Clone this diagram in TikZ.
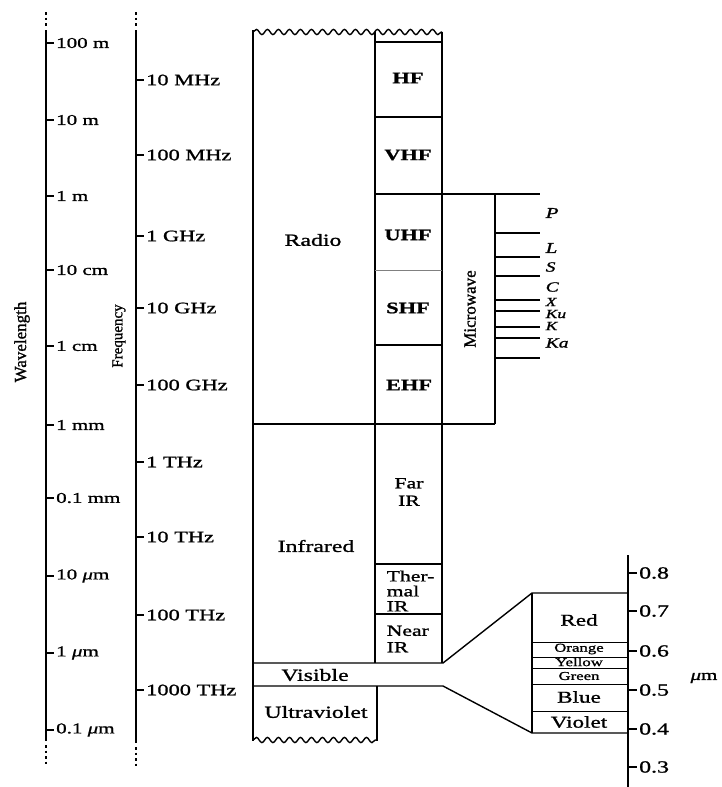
\documentclass[tikz,border=0pt]{standalone}
\usepackage{fontspec}
\setmainfont{Liberation Serif}[FakeStretch=1.4, FakeBold=1.2]
\newfontfamily\upfont{Liberation Serif}[FakeBold=1.2]
\usetikzlibrary{decorations.pathmorphing}

\begin{document}
\begin{tikzpicture}[x=1pt, y=-1pt, line width=1.4pt,
    wave/.style={decorate, decoration={snake, amplitude=2.6pt, segment length=11pt}},
    dots/.style={dash pattern=on 2.5pt off 3pt},
    wlabel/.style={right, inner sep=1.5pt, font=\fontsize{15}{15}\selectfont},
    flabel/.style={right, inner sep=1.5pt, font=\fontsize{16}{16}\selectfont},
    region/.style={font=\fontsize{17}{17}\selectfont},
    band/.style={font=\bfseries\fontsize{16}{16}\selectfont},
    irband/.style={align=left, inner sep=0pt, font=\fontsize{15.5}{16.5}\selectfont},
    colour/.style={font=\fontsize{16.5}{16.5}\selectfont},
    colsmall/.style={inner sep=0pt, font=\fontsize{12}{12}\selectfont},
    mwband/.style={right, inner sep=0pt, font=\itshape\fontsize{12.5}{12.5}\selectfont},
    sidelabel/.style={rotate=90, font=\upfont\fontsize{15}{15}\selectfont}]
    \useasboundingbox (0,0) rectangle (721,787);

    % wavelength and frequency axes
    \draw[line width=1.6pt] (46,30) -- (46,741);
    \draw[line width=1.6pt, dots] (46,12) -- (46,28);
    \draw[line width=1.6pt, dots] (46,745) -- (46,766);
    \draw[line width=1.6pt] (136,30) -- (136,743);
    \draw[line width=1.6pt, dots] (136,12) -- (136,28);
    \draw[line width=1.6pt, dots] (136,747) -- (136,768);

    \foreach \y/\t [count=\i] in {43/100 m, 120/10 m, 196/1 m, 270/10 cm, 346/1 cm,
            425/1 mm, 498/0.1 mm, 576/10 \textit{μ}m, 653/1 \textit{μ}m, 730/0.1 \textit{μ}m}
        \draw (46,\y) -- (54,\y) node[wlabel] (wl\i) {\t};
    \foreach \y/\t [count=\i] in {80/10 MHz, 155/100 MHz, 236/1 GHz, 308/10 GHz, 385/100 GHz,
            462/1 THz, 537/10 THz, 615/100 THz, 690/1000 THz}
        \draw (136,\y) -- (144,\y) node[flabel] (fl\i) {\t};

    \node[sidelabel, font=\upfont\fontsize{17}{17}\selectfont] (wavelength) at (22,342) {Wavelength};
    \node[sidelabel, font=\upfont\fontsize{15}{15}\selectfont] (frequency) at (119,336) {Frequency};

    % radio / infrared block
    \draw[wave] (253,32) -- (442,32);
    \draw (253,30) -- (253,741);
    \draw (375,32) -- (375,663);
    \draw (442,32) -- (442,663);
    \draw (375,42) -- (442,42);
    \draw (375,117) -- (442,117);
    \draw (375,194) -- (540,194);
    \draw[line width=0.7pt, gray] (375,270) -- (442,270);
    \draw (375,345) -- (442,345);
    \draw (253,424) -- (495,424);
    \draw (375,564) -- (442,564);
    \draw (375,614) -- (442,614);

    % microwave bands
    \draw (495,194) -- (495,424);
    \foreach \y in {233,257,276,300,311,327,338,358}
        \draw (495,\y) -- (540,\y);

    % visible and ultraviolet
    \draw (253,663) -- (443,663) -- (532,593) -- (628,593);
    \draw (253,686) -- (443,686) -- (532,733) -- (628,733);
    \draw (377,686) -- (377,741);
    \draw[wave] (253,740) -- (377,740);

    % visible spectrum
    \draw (532,593) -- (532,733);
    \foreach \y in {642,657,668,684,711}
        \draw[line width=1pt] (532,\y) -- (628,\y);
    \draw[line width=1.6pt] (628,555) -- (628,787);
    \foreach \y/\t [count=\i] in {573/0.8, 611/0.7, 651/0.6, 690/0.5, 729/0.4, 767/0.3}
        \draw (628,\y) -- (637,\y) node[flabel, font=\fontsize{17}{17}\selectfont] (um\i) {\t};
    \node[font=\fontsize{15}{15}\selectfont] (unit) at (704,678) {\textit{μ}m};

    % labels
    \node[region] (radio) at (313,240) {Radio};
    \node[band] (hf) at (408,78) {HF};
    \node[band] (vhf) at (408,155) {VHF};
    \node[band] (uhf) at (408,235) {UHF};
    \node[band] (shf) at (408,308) {SHF};
    \node[band] (ehf) at (409,385) {EHF};
    \node[sidelabel, font=\upfont\fontsize{17}{17}\selectfont] (microwave) at (470,309) {Microwave};

    \node[mwband, font=\itshape\fontsize{15}{15}\selectfont] (p) at (545,213) {P};
    \node[mwband, font=\itshape\fontsize{15}{15}\selectfont] (l) at (545,248) {L};
    \node[mwband, font=\itshape\fontsize{14}{14}\selectfont] (s) at (545,267) {S};
    \node[mwband, font=\itshape\fontsize{14}{14}\selectfont] (c) at (545,287) {C};
    \node[mwband] (x) at (545,302) {X};
    \node[mwband] (ku) at (545,314) {Ku};
    \node[mwband] (k) at (545,326) {K};
    \node[mwband, font=\itshape\fontsize{14}{14}\selectfont] (ka) at (545,343) {Ka};

    \node[irband, align=center] (farir) at (409,492) {Far\\[1pt]IR};
    \node[region] (infrared) at (316,546) {Infrared};
    \node[irband, anchor=west, font=\fontsize{15.5}{15}\selectfont] (thermal) at (386,591) {Ther-\\mal\\IR};
    \node[irband, anchor=west] (nearir) at (386,639) {Near\\IR};
    \node[region] (visible) at (315,675) {Visible};
    \node[region] (uv) at (316,712) {Ultraviolet};

    \node[colour] (red) at (579,620) {Red};
    \node[colsmall] (orange) at (579,649) {Orange};
    \node[colsmall] (yellow) at (579,662) {Yellow};
    \node[colsmall] (green) at (579,676) {Green};
    \node[colour] (blue) at (579,697) {Blue};
    \node[colour] (violet) at (579,722) {Violet};
\end{tikzpicture}
\end{document}
